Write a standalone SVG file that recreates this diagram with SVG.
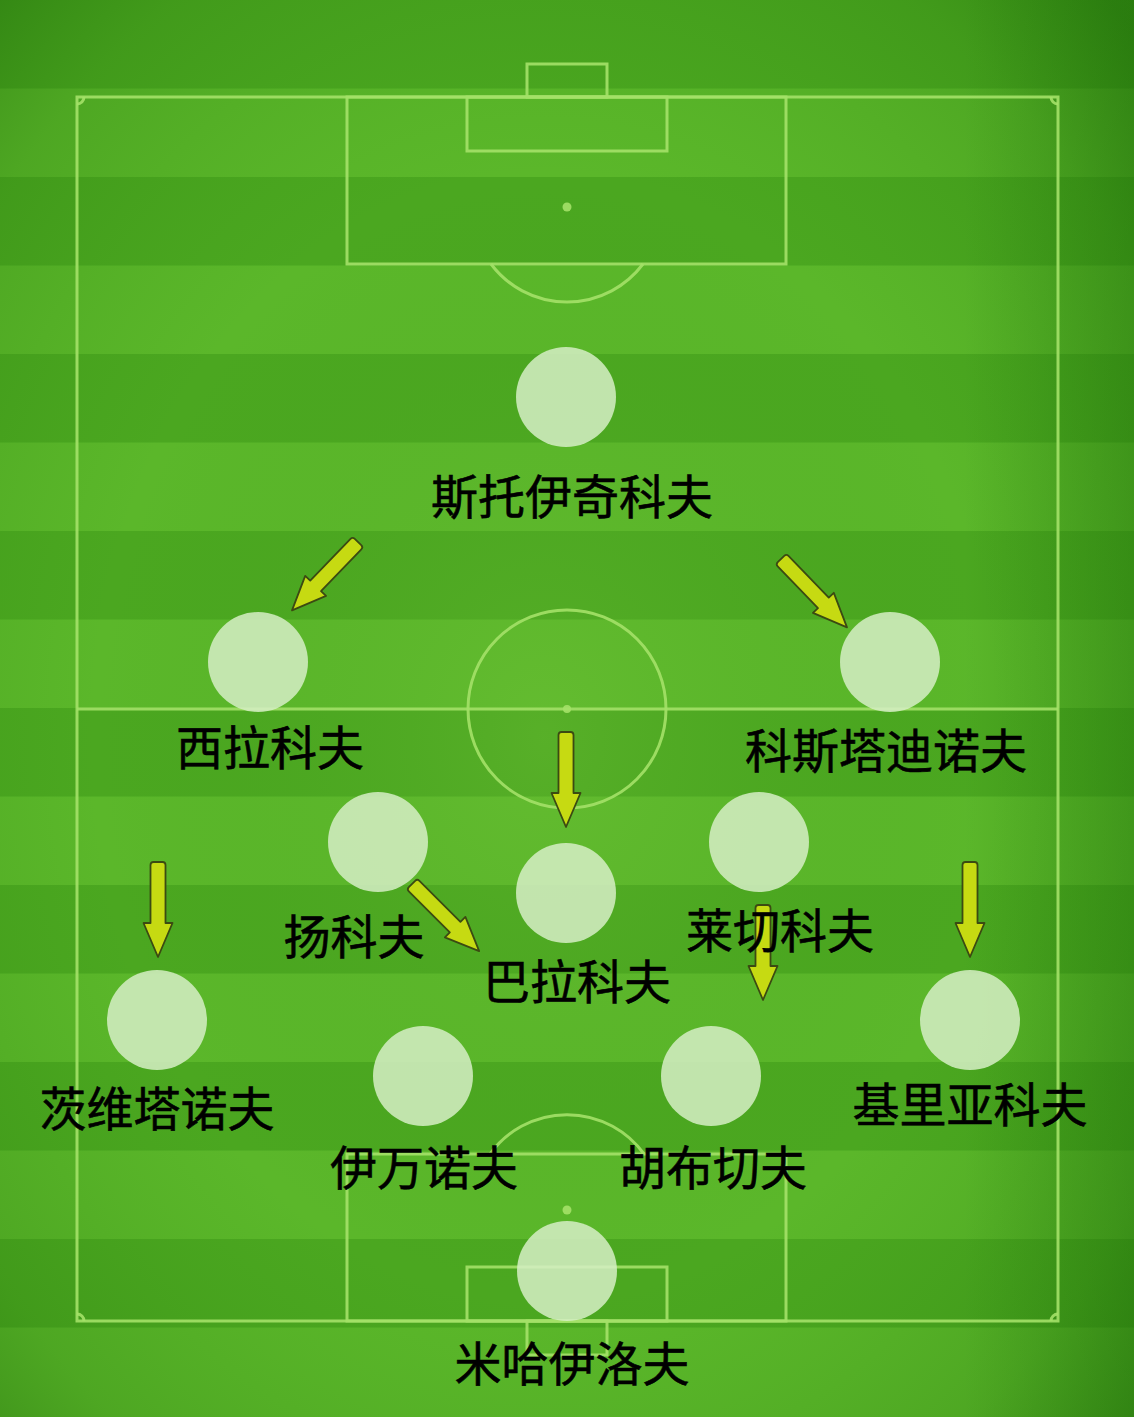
<svg xmlns="http://www.w3.org/2000/svg" width="1134" height="1417" viewBox="0 0 1134 1417">
  <defs>
    <style>
      .ln{fill:none;stroke:#a4e168;stroke-width:3;opacity:0.9}
      .spot{fill:#a4e168;opacity:0.9}
      .pl{fill:#d6eec6;opacity:0.85}
      .lb{font-family:"Noto Sans CJK SC","Noto Sans",sans-serif;font-size:47px;fill:#000;stroke:#000;stroke-width:0.6;text-anchor:middle}
      .ar{fill:#c6da12;stroke:#3b4a12;stroke-width:1.8;stroke-linejoin:round}
      .dk{fill:#4ba720}
    </style>
    <radialGradient id="vig" cx="48%" cy="52%" r="72%">
      <stop offset="0" stop-color="#8ad24a" stop-opacity="0.2"/>
      <stop offset="0.55" stop-color="#2e8a10" stop-opacity="0"/>
      <stop offset="0.85" stop-color="#1f6e08" stop-opacity="0.22"/>
      <stop offset="1" stop-color="#155e04" stop-opacity="0.45"/>
    </radialGradient>
    <linearGradient id="rightdark" x1="0" y1="0" x2="1" y2="0">
      <stop offset="0.85" stop-color="#1a6a06" stop-opacity="0"/>
      <stop offset="1" stop-color="#1a6a06" stop-opacity="0.35"/>
    </linearGradient>
    <path id="arrow" d="M-7.5,3 Q-7.5,0 -4.5,0 L4.5,0 Q7.5,0 7.5,3 L7.5,61 L14.5,61 L0,95 L-14.5,61 L-7.5,61 Z"/>
  </defs>

  <g id="background">
    <rect x="0" y="0" width="1134" height="1417" fill="#5bb72a"/>
    <rect class="dk" x="0" y="0" width="1134" height="88.5"/>
    <rect class="dk" x="0" y="177" width="1134" height="88.5"/>
    <rect class="dk" x="0" y="354" width="1134" height="88.5"/>
    <rect class="dk" x="0" y="531" width="1134" height="88.5"/>
    <rect class="dk" x="0" y="708" width="1134" height="88.5"/>
    <rect class="dk" x="0" y="885" width="1134" height="88.5"/>
    <rect class="dk" x="0" y="1062" width="1134" height="88.5"/>
    <rect class="dk" x="0" y="1239" width="1134" height="88.5"/>
    <rect x="0" y="0" width="1134" height="1417" fill="url(#vig)"/>
    <rect x="0" y="0" width="1134" height="1417" fill="url(#rightdark)"/>
  </g>

  <g id="pitch">
    <rect class="ln" x="77" y="97" width="981" height="1224"/>
    <path class="ln" d="M77,104 A7,7 0 0 0 84,97 M1051,97 A7,7 0 0 0 1058,104 M1058,1314 A7,7 0 0 0 1051,1321 M84,1321 A7,7 0 0 0 77,1314"/>
    <line class="ln" x1="77" y1="709" x2="1058" y2="709"/>
    <circle class="ln" cx="567" cy="709" r="99"/>
    <circle class="spot" cx="567" cy="709" r="4"/>
    <rect class="ln" x="347" y="97" width="439" height="167"/>
    <rect class="ln" x="467" y="97" width="200" height="54"/>
    <rect class="ln" x="527" y="64" width="80" height="33"/>
    <circle class="spot" cx="567" cy="207" r="4.5"/>
    <path class="ln" d="M491,264 A95,95 0 0 0 643,264"/>
    <rect class="ln" x="347" y="1154" width="439" height="167"/>
    <rect class="ln" x="467" y="1267" width="200" height="54"/>
    <rect class="ln" x="527" y="1321" width="80" height="34"/>
    <circle class="spot" cx="567" cy="1210" r="4.5"/>
    <path class="ln" d="M490,1154 A95,95 0 0 1 644,1154"/>
  </g>

  <g id="connectors">
    <use href="#arrow" class="ar" transform="translate(358,542) rotate(44)"/>
    <use href="#arrow" class="ar" transform="translate(781,559) rotate(-44)"/>
    <use href="#arrow" class="ar" transform="translate(566,732)"/>
    <use href="#arrow" class="ar" transform="translate(158,862)"/>
    <use href="#arrow" class="ar" transform="translate(970,862)"/>
    <use href="#arrow" class="ar" transform="translate(412,884) rotate(-45)"/>
    <use href="#arrow" class="ar" transform="translate(763,905)"/>
  </g>

  <g id="stoichkov"><circle class="pl" cx="566" cy="397" r="50"/><text class="lb" x="572" y="514">斯托伊奇科夫</text></g>
  <g id="sirakov"><circle class="pl" cx="258" cy="662" r="50"/><text class="lb" x="270" y="765">西拉科夫</text></g>
  <g id="kostadinov"><circle class="pl" cx="890" cy="662" r="50"/><text class="lb" x="886" y="768">科斯塔迪诺夫</text></g>
  <g id="yankov"><circle class="pl" cx="378" cy="842" r="50"/><text class="lb" x="354" y="954">扬科夫</text></g>
  <g id="balakov"><circle class="pl" cx="566" cy="893" r="50"/><text class="lb" x="577" y="999">巴拉科夫</text></g>
  <g id="lechkov"><circle class="pl" cx="759" cy="842" r="50"/><text class="lb" x="780" y="948">莱切科夫</text></g>
  <g id="tsvetanov"><circle class="pl" cx="157" cy="1020" r="50"/><text class="lb" x="157" y="1126">茨维塔诺夫</text></g>
  <g id="kiriakov"><circle class="pl" cx="970" cy="1020" r="50"/><text class="lb" x="970" y="1122">基里亚科夫</text></g>
  <g id="ivanov"><circle class="pl" cx="423" cy="1076" r="50"/><text class="lb" x="424" y="1185">伊万诺夫</text></g>
  <g id="houbchev"><circle class="pl" cx="711" cy="1076" r="50"/><text class="lb" x="713" y="1185">胡布切夫</text></g>
  <g id="mihaylov"><circle class="pl" cx="567" cy="1271" r="50"/><text class="lb" x="572" y="1381">米哈伊洛夫</text></g>
</svg>
